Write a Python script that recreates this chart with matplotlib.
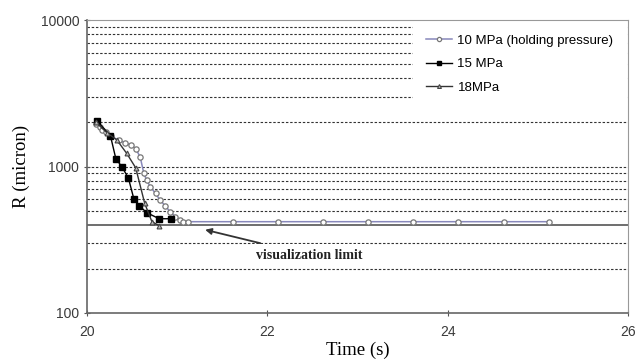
import matplotlib
matplotlib.use("Agg")
import matplotlib.pyplot as plt
from matplotlib.ticker import FixedLocator, NullLocator

# ---- data ----
t10 = [20.10, 20.14, 20.17, 20.21, 20.27, 20.35, 20.42, 20.49, 20.54, 20.59,
       20.63, 20.66, 20.70, 20.76, 20.81, 20.87, 20.92, 20.98, 21.03, 21.07,
       21.12, 21.62, 22.12, 22.62, 23.12, 23.62, 24.12, 24.62, 25.12]
r10 = [1950, 1850, 1780, 1720, 1610, 1510, 1455, 1400, 1325, 1160,
       900, 810, 730, 655, 590, 537, 492, 455, 430, 420,
       420, 420, 420, 420, 420, 420, 420, 420, 420]

t15 = [20.11, 20.26, 20.32, 20.39, 20.46, 20.52, 20.58, 20.66, 20.80, 20.93]
r15 = [2050, 1620, 1130, 990, 830, 600, 540, 485, 440, 440]

t18 = [20.10, 20.22, 20.33, 20.44, 20.54, 20.64, 20.72, 20.80]
r18 = [2000, 1700, 1520, 1230, 980, 560, 420, 395]

labels = ["10 MPa (holding pressure)", "15 MPa", "18MPa"]
vis_limit = 400
grid_levels = [200, 300, 500, 600, 700, 800, 900, 1000,
               2000, 3000, 4000, 5000, 6000, 7000, 8000, 9000]
xticks = [20, 22, 24, 26]
yticks = [100, 1000, 10000]

# ---- figure ----
fig = plt.figure(figsize=(6.35, 3.62), dpi=100)
ax = fig.add_axes([87/635, 1-313/362, (628-87)/635, (313-20)/362])
ax.set_yscale("log")
ax.set_xlim(20, 26)
ax.set_ylim(100, 10000)

for g in grid_levels:
    ax.axhline(g, color="#333333", lw=0.8, ls=(0, (2.2, 1.6)), zorder=1)
ax.axhline(vis_limit, color="#555555", lw=1.2, zorder=2)

ax.plot(t10, r10, color="#8888bb", lw=1.1, marker="o", ms=3.8,
        mfc="white", mec="#777777", mew=0.9, label=labels[0], zorder=4)
ax.plot(t15, r15, color="black", lw=1.0, marker="s", ms=4,
        mfc="black", mec="black", label=labels[1], zorder=5)
ax.plot(t18, r18, color="#333333", lw=1.0, marker="^", ms=3.5,
        mfc="#bbbbbb", mec="#444444", mew=0.8, label=labels[2], zorder=5)

ax.xaxis.set_major_locator(FixedLocator(xticks))
ax.yaxis.set_major_locator(FixedLocator(yticks))
ax.yaxis.set_minor_locator(NullLocator())
ax.set_xticklabels([str(v) for v in xticks])
ax.set_yticklabels([str(v) for v in yticks])
ax.tick_params(axis="both", direction="inout", length=5, width=0.8,
               color="#555555", labelsize=10, labelcolor="#3a3a3a",
               labelfontfamily="Liberation Sans")
ax.tick_params(axis="x", pad=6)
ax.tick_params(axis="y", pad=3)
for s in ["left", "bottom"]:
    ax.spines[s].set_color("#666666")
    ax.spines[s].set_linewidth(1.2)
for s in ["top", "right"]:
    ax.spines[s].set_color("#999999")
    ax.spines[s].set_linewidth(0.8)

ax.set_xlabel("Time (s)", family="Liberation Serif", fontsize=13.5, labelpad=2)
ax.set_ylabel("R (micron)", family="Liberation Serif", fontsize=13.5, labelpad=8)

leg = ax.legend(loc="upper right", bbox_to_anchor=(1.0, 1.0),
                borderaxespad=0.15,
                prop={"family": "Liberation Sans", "size": 9.5},
                frameon=True, fancybox=False, framealpha=1,
                facecolor="white", edgecolor="white",
                handlelength=2.0, handletextpad=0.4, labelspacing=0.85,
                borderpad=0.95, markerscale=0.8)
leg.set_zorder(6)

ax.annotate("visualization limit", xy=(21.31, 370), xytext=(22.47, 248),
            ha="center", va="center", family="Liberation Serif",
            fontsize=10, fontweight="bold", color="#222222",
            bbox=dict(boxstyle="square,pad=0.35", fc="white", ec="none"),
            arrowprops=dict(arrowstyle="-|>", color="#333333", lw=1.3,
                            shrinkA=2, shrinkB=0, mutation_scale=9),
            zorder=7)

fig.savefig("out.png", dpi=100)
